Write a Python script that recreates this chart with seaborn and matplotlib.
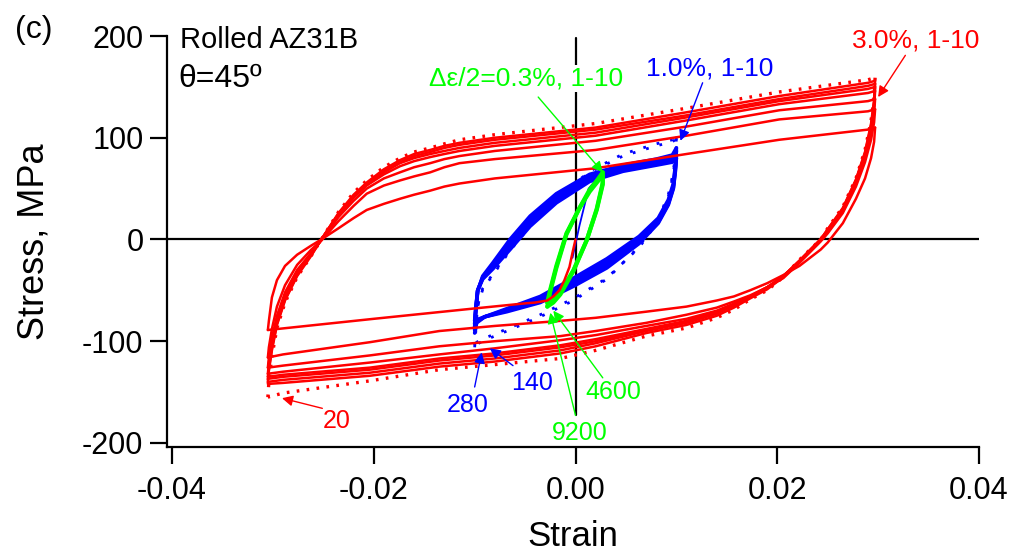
import matplotlib
matplotlib.use("Agg")
import matplotlib.pyplot as plt
import pandas as pd
import seaborn as sns

# ---------------- data ----------------
# Red: strain amplitude 3.0 %, cycles 1-10 and 20 (dotted)
RED_INIT_EPS = [0.0, -0.0003, -0.0006, -0.0011, -0.0016, -0.0022, -0.0028, -0.0040, -0.0052, -0.0102, -0.0200, -0.0305]
RED_INIT_SIG = [0, -13, -27, -40, -50, -56, -60, -62, -63, -68, -78, -89]

RED_UP_EPS = [-0.0305, -0.0304, -0.0301, -0.0296, -0.0288, -0.0276, -0.0262, -0.0252, -0.0235, -0.0220,
              -0.0207, -0.0190, -0.0174, -0.0160, -0.0144, -0.0130, -0.0115, -0.0080, 0.0020, 0.0110,
              0.0202, 0.0290, 0.0297]
RED_UP_C1 = [-89, -80, -57, -40, -26, -15, -6, 0, 11, 21, 29, 35, 40, 44, 48, 52, 55, 60, 70, 84, 98, 108, 110]
RED_UP_C2 = [-116, -106, -88, -66, -45, -25, -10, -1, 18, 33, 45, 53, 58, 62, 66, 71, 75, 79, 88, 102, 118, 126, 128]
RED_UP_C3 = [-126, -116, -97, -75, -52, -30, -13, -1, 22, 38, 50, 60, 66, 71, 75, 79, 82, 87, 97, 111, 127, 136, 138]
RED_UP_C4 = [-132, -121, -102, -79, -56, -33, -14, 0, 24, 41, 53, 64, 72, 77, 81, 84, 87, 92, 102, 117, 133, 144, 146]
RED_UP_C5 = [-135, -124, -105, -81, -58, -34, -15, 0, 25, 42, 54, 66, 75, 80, 84, 87, 90, 95, 105, 120, 136, 148, 150]
RED_UP_C7 = [-138, -127, -107, -83, -59, -35, -15, 0, 25, 43, 55, 67, 76, 82, 86, 90, 93, 98, 108, 122, 138, 151, 153]
RED_UP_C10 = [-141, -129, -109, -84, -60, -36, -16, 0, 26, 44, 56, 69, 78, 84, 88, 92, 95, 100, 110, 125, 141, 154, 156]
RED_UP_C20 = [-155, -140, -115, -87, -62, -37, -16, 0, 27, 46, 58, 71, 80, 86, 90, 94, 98, 103, 114, 129, 145, 157, 159]

RED_LO_EPS = [0.0297, 0.0296, 0.0293, 0.0287, 0.0278, 0.0265, 0.0250, 0.0243, 0.0222, 0.0206, 0.0190,
              0.0173, 0.0157, 0.0140, 0.0110, 0.0070, 0.0020, -0.0015, -0.0080, -0.0135, -0.0204,
              -0.0290, -0.0305]
RED_LO_C1 = [110, 96, 80, 60, 40, 16, -3, -10, -26, -35, -43, -50, -56, -60, -66, -71, -77, -80, -85, -90, -101, -113, -116]
RED_LO_C2 = [128, 115, 98, 76, 52, 26, 6, -2, -23, -38, -47, -55, -61, -67, -74, -82, -90, -95, -100, -105, -114, -124, -126]
RED_LO_C3 = [138, 124, 104, 80, 55, 28, 7, -1, -22, -37, -47, -56, -63, -70, -78, -85, -94, -99, -107, -113, -121, -130, -132]
RED_LO_C4 = [146, 130, 108, 83, 57, 29, 8, 0, -21, -36, -47, -56, -64, -71, -80, -88, -98, -104, -112, -117, -126, -133, -135]
RED_LO_C5 = [150, 133, 110, 84, 58, 30, 9, 0, -21, -36, -47, -56, -64, -72, -81, -89, -100, -106, -114, -119, -128, -135, -137]
RED_LO_C7 = [153, 135, 112, 85, 58, 30, 10, 0, -21, -36, -48, -57, -65, -73, -82, -90, -102, -109, -117, -122, -131, -138, -140]
RED_LO_C10 = [156, 137, 114, 86, 59, 31, 10, 0, -21, -37, -49, -58, -67, -75, -84, -92, -105, -112, -120, -125, -134, -141, -142]
RED_LO_C20 = [159, 140, 117, 88, 60, 32, 11, 0, -20, -37, -50, -59, -69, -77, -87, -95, -109, -117, -123, -128, -139, -151, -155]

# Blue: strain amplitude 1.0 %, cycles 1-10 and 140, 280 (dotted)
BLUE_INIT_EPS = [-0.0003, 0.0004, 0.0008, 0.0013, 0.0020, 0.0040, 0.0070, 0.0100]
BLUE_INIT_SIG = [-18, 14, 30, 50, 58, 66, 74, 80]

BLUE_UP_EPS = [-0.0100, -0.0099, -0.0097, -0.0092, -0.0082, -0.0065, -0.0045, -0.0019,
               0.0014, 0.0047, 0.0080, 0.0096, 0.0100]
BLUE_UP_C1 = [-80, -68, -50, -39, -29, -10, 13, 36, 57, 67, 73, 76, 80]
BLUE_UP_C3 = [-83, -70, -50, -38, -27, -6, 17, 39, 59, 69, 75, 78, 83]
BLUE_UP_C6 = [-86, -71, -50, -37, -25, -3, 20, 42, 62, 71, 77, 81, 87]
BLUE_UP_C10 = [-89, -73, -51, -36, -23, 0, 23, 45, 64, 73, 79, 83, 90]
BLUE_UP_C140 = [-104, -90, -65, -48, -34, -10, 14, 40, 66, 82, 92, 96, 99]
BLUE_UP_C280 = [-106, -92, -66, -49, -35, -11, 13, 40, 67, 84, 94, 98, 101]

BLUE_LO_EPS = [0.0100, 0.0099, 0.0097, 0.0092, 0.0082, 0.0063, 0.0031, -0.0002,
               -0.0035, -0.0068, -0.0090, -0.0098, -0.0100]
BLUE_LO_C1 = [80, 67, 50, 34, 16, -4, -28, -46, -62, -71, -76, -79, -83]
BLUE_LO_C3 = [83, 69, 51, 35, 17, -2, -25, -44, -60, -70, -76, -80, -86]
BLUE_LO_C6 = [87, 71, 53, 37, 19, 1, -22, -41, -58, -69, -76, -81, -89]
BLUE_LO_C10 = [90, 73, 55, 39, 21, 3, -19, -38, -56, -68, -76, -82, -92]
BLUE_LO_C140 = [99, 84, 64, 42, 18, -8, -38, -58, -74, -88, -97, -101, -104]
BLUE_LO_C280 = [101, 86, 66, 44, 20, -7, -39, -60, -76, -90, -99, -103, -106]

# Green: strain amplitude 0.3 %, cycles 1-10, 4600, 9200
GREEN_UP_EPS = [-0.0028, -0.0025, -0.0019, -0.0009, 0.0004, 0.0014, 0.0022, 0.0027]
GREEN_UP_C1 = [-62, -49, -26, 6, 31, 47, 57, 63]
GREEN_UP_C9200 = [-66, -51, -28, 5, 31, 49, 59, 66]
GREEN_LO_EPS = [0.0027, 0.0027, 0.0021, 0.0011, -0.0002, -0.0015, -0.0022, -0.0028]
GREEN_LO_C1 = [63, 54, 29, -1, -30, -52, -59, -62]
GREEN_LO_C9200 = [66, 56, 30, -1, -31, -54, -62, -66]

X_TICKS = [-0.04, -0.02, 0.00, 0.02, 0.04]
Y_TICKS = [-200, -100, 0, 100, 200]

RED, BLUE, GREEN = "#ff0000", "#0000ff", "#00ff00"

# ---------------- figure ----------------
sns.set_theme(style="ticks")
plt.rcParams["font.family"] = ["Liberation Sans", "DejaVu Sans"]
plt.rcParams["axes.unicode_minus"] = False
plt.rcParams["text.color"] = "black"
plt.rcParams["axes.labelcolor"] = "black"
plt.rcParams["xtick.color"] = "black"
plt.rcParams["ytick.color"] = "black"

fig = plt.figure(figsize=(10.16, 5.54), dpi=100)
ax = fig.add_axes([167 / 1016, 1 - 447 / 554, (979 - 167) / 1016, (447 - 36) / 554])


def branch(eps, sig, color, lw=1.8, ls="-", z=2):
    df = pd.DataFrame({"strain": eps, "stress": sig})
    sns.lineplot(data=df, x="strain", y="stress", sort=False, estimator=None,
                 color=color, lw=lw, linestyle=ls, ax=ax, zorder=z)


# blue loops
branch(BLUE_INIT_EPS, BLUE_INIT_SIG, BLUE, lw=1.3, z=2)
for up, lo in [(BLUE_UP_C1, BLUE_LO_C1), (BLUE_UP_C3, BLUE_LO_C3),
               (BLUE_UP_C6, BLUE_LO_C6), (BLUE_UP_C10, BLUE_LO_C10)]:
    branch(BLUE_UP_EPS, up, BLUE, lw=2.6, z=2)
    branch(BLUE_LO_EPS, lo, BLUE, lw=2.6, z=2)
for up, lo in [(BLUE_UP_C140, BLUE_LO_C140), (BLUE_UP_C280, BLUE_LO_C280)]:
    branch(BLUE_UP_EPS, up, BLUE, lw=2.0, ls=(0, (1, 4)), z=2)
    branch(BLUE_LO_EPS, lo, BLUE, lw=2.0, ls=(0, (1, 4)), z=2)

# green loops
for up, lo in [(GREEN_UP_C1, GREEN_LO_C1), (GREEN_UP_C9200, GREEN_LO_C9200)]:
    branch(GREEN_UP_EPS, up, GREEN, lw=3.0, z=3)
    branch(GREEN_LO_EPS, lo, GREEN, lw=3.0, z=3)

# red loops
branch(RED_INIT_EPS, RED_INIT_SIG, RED, lw=1.8, z=4)
for up, lo in [(RED_UP_C1, RED_LO_C1), (RED_UP_C2, RED_LO_C2), (RED_UP_C3, RED_LO_C3),
               (RED_UP_C4, RED_LO_C4), (RED_UP_C5, RED_LO_C5), (RED_UP_C7, RED_LO_C7),
               (RED_UP_C10, RED_LO_C10)]:
    branch(RED_UP_EPS, up, RED, lw=1.8, z=4)
    branch(RED_LO_EPS, lo, RED, lw=1.8, z=4)
branch(RED_UP_EPS, RED_UP_C20, RED, lw=2.4, ls=(0, (0.8, 2.2)), z=4)
branch(RED_LO_EPS, RED_LO_C20, RED, lw=2.4, ls=(0, (0.8, 2.2)), z=4)

# zero lines
ax.axhline(0, color="black", lw=1.6, zorder=1)
ax.axvline(0, ymin=(-173 + 204) / 404, ymax=(198 + 204) / 404, color="black", lw=1.6, zorder=1)

# axes styling
ax.set_xlim(-0.0405, 0.04)
ax.set_ylim(-204, 200)
ax.set_xticks(X_TICKS)
ax.set_xticklabels([f"{v:.2f}" for v in X_TICKS])
ax.set_yticks(Y_TICKS)
ax.set_yticklabels([str(v) for v in Y_TICKS])
sns.despine(ax=ax)
for s in ["left", "bottom"]:
    ax.spines[s].set_linewidth(1.6)
    ax.spines[s].set_color("black")
ax.tick_params(axis="x", direction="out", length=12, width=1.6, labelsize=22, colors="black", pad=9)
ax.tick_params(axis="y", direction="out", length=12, width=1.6, labelsize=22, colors="black", pad=5)
ax.set_xlabel("Strain", fontsize=25, labelpad=10, color="black")
ax.set_ylabel("Stress, MPa", fontsize=26, labelpad=22, color="black")
ax.grid(False)

# texts
fig.text(15 / 1016, 1 - 30 / 554, "(c)", fontsize=23, va="center", ha="left", color="black")
ax.text(-0.0392, 196, "Rolled AZ31B", fontsize=21, va="center", ha="left", color="black")
ax.text(-0.0394, 158, "θ=45º", fontsize=23, va="center", ha="left", color="black")

bbox = dict(facecolor="white", edgecolor="none", pad=1)
arrow = dict(arrowstyle="-|>", lw=1.0, mutation_scale=16, shrinkA=0, shrinkB=0)

ax.annotate("", xy=(0.0027, 66), xytext=(-0.0037, 140),
            arrowprops=dict(arrow, color=GREEN), zorder=6)
ax.text(-0.0145, 158, "Δε/2=0.3%, 1-10", color=GREEN, fontsize=19, va="center", ha="left",
        bbox=bbox, zorder=7)
ax.annotate("", xy=(0.0104, 97), xytext=(0.0126, 154),
            arrowprops=dict(arrow, color=BLUE), zorder=6)
ax.text(0.0070, 168, "1.0%, 1-10", color=BLUE, fontsize=19, va="center", ha="left")
ax.annotate("", xy=(0.0300, 140), xytext=(0.0327, 181),
            arrowprops=dict(arrow, color=RED), zorder=6)
ax.text(0.0274, 196, "3.0%, 1-10", color=RED, fontsize=19, va="center", ha="left")

ax.annotate("", xy=(-0.0291, -156), xytext=(-0.0251, -166),
            arrowprops=dict(arrow, color=RED), zorder=6)
ax.text(-0.0237, -178, "20", color=RED, fontsize=18, va="center", ha="center")
ax.annotate("", xy=(-0.0093, -111), xytext=(-0.0100, -145),
            arrowprops=dict(arrow, color=BLUE), zorder=6)
ax.text(-0.0107, -163, "280", color=BLUE, fontsize=18, va="center", ha="center")
ax.annotate("", xy=(-0.0085, -107), xytext=(-0.0062, -124),
            arrowprops=dict(arrow, color=BLUE), zorder=6)
ax.text(-0.0043, -141, "140", color=BLUE, fontsize=18, va="center", ha="center")
ax.annotate("", xy=(-0.0022, -70), xytext=(0.0027, -136),
            arrowprops=dict(arrow, color=GREEN), zorder=6)
ax.text(0.0037, -150, "4600", color=GREEN, fontsize=18, va="center", ha="center")
ax.annotate("", xy=(-0.0025, -72), xytext=(0.0000, -173),
            arrowprops=dict(arrow, color=GREEN), zorder=6)
ax.text(0.0004, -190, "9200", color=GREEN, fontsize=18, va="center", ha="center")

fig.savefig("out.png", dpi=100)
